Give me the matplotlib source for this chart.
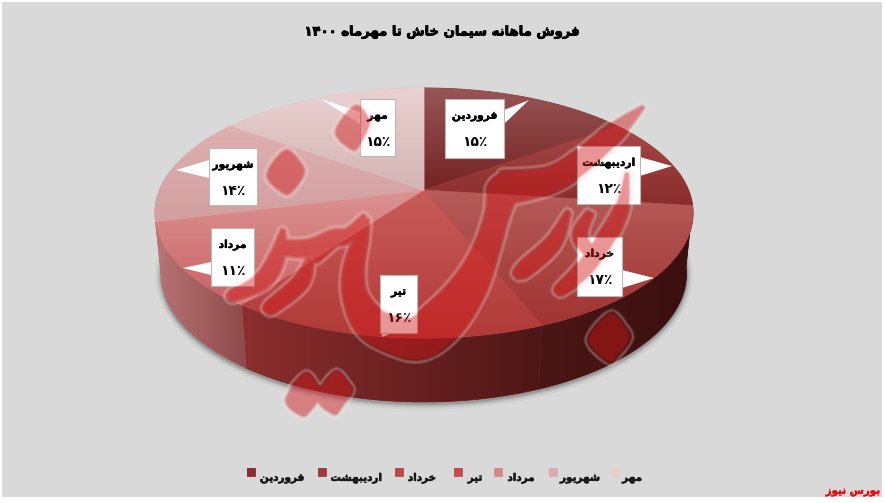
import numpy as np
import matplotlib
matplotlib.use("Agg")
import matplotlib.pyplot as plt
import matplotlib.patheffects as pe
from matplotlib.figure import Figure
from matplotlib.backends.backend_agg import FigureCanvasAgg
from matplotlib.patches import Polygon, Rectangle, Circle
from matplotlib.colors import to_rgb

W, H = 885, 503

# data
categories = ["فروردین", "اردیبهشت", "خرداد", "تیر", "مرداد", "شهریور", "مهر"]
values = [15, 12, 17, 16, 11, 14, 15]
title = "فروش ماهانه سیمان خاش تا مهرماه ۱۴۰۰"
source = "بورس نیوز"

# (top, bottom) colour of each slice, and (left, right) colour of its side
top_colors = [("#985656", "#752222"), ("#a84848", "#8a2c2c"), ("#b65c5a", "#a03431"),
              ("#c95c5a", "#b03a38"), ("#dc9292", "#c96262"), ("#dfb0b0", "#d39f9f"),
              ("#ebd2d2", "#d3b4b4")]
side_colors = [("#4a1818", "#4a1818"), ("#4a1818", "#4a1818"), ("#4c1616", "#3a0f0f"),
               ("#8c2e2e", "#4e1616"), ("#b87474", "#8e4a4a"), ("#b87474", "#b87474"),
               ("#b87474", "#b87474")]
legend_colors = ["#8a2f2f", "#a03c3a", "#b84a48", "#c84c4a", "#d58a8a", "#ddabab", "#e9cccc"]

# callout boxes: left, right, top, bottom, pointer tip, pointer base
boxes = [(445, 504, 99, 158, (529, 100), [(504, 110), (504, 124)]),
         (577, 640, 146, 204, (672, 166), [(640, 157), (640, 176)]),
         (577, 622, 237, 296, (654, 278), [(622, 270), (622, 288)]),
         (380, 417, 275, 333, (382, 337), [(392, 333), (382, 333)]),
         (211, 254, 228, 286, (183, 268), [(211, 275), (211, 262)]),
         (209, 257, 148, 205, (176, 170), [(209, 178), (209, 160)]),
         (360, 395, 99, 156, (321, 99), [(360, 124), (360, 112)])]

legend_box_x = [247, 318, 395, 454, 494, 549, 612]
legend_text_x = [282, 356, 422, 475, 521, 580, 632]

plt.rcParams['font.family'] = ['DejaVu Sans']

# matplotlib has no arabic shaping, so pick the presentation forms here
FORMS = {'ف': 0xFED1, 'ر': 0xFEAD, 'و': 0xFEED, 'ش': 0xFEB5, 'م': 0xFEE1, 'ا': 0xFE8D,
         'ه': 0xFEE9, 'ن': 0xFEE5, 'س': 0xFEB1, 'ی': 0xFBFC, 'خ': 0xFEA5, 'ت': 0xFE95,
         'د': 0xFEA9, 'ب': 0xFE8F, 'ز': 0xFEAF}
NO_LEFT_JOIN = "اردذزو"
DIGITS = "۰۱۲۳۴۵۶۷۸۹"
HEAVY = [pe.withStroke(linewidth=0.35, foreground="black")]


def shape(txt):
    out = []
    for i, c in enumerate(txt):
        if c not in FORMS:
            out.append(c)
            continue
        before = i > 0 and txt[i - 1] in FORMS and txt[i - 1] not in NO_LEFT_JOIN
        after = i + 1 < len(txt) and txt[i + 1] in FORMS and c not in NO_LEFT_JOIN
        k = 3 if before and after else 2 if after else 1 if before else 0
        out.append(chr(FORMS[c] + k))
    out = "".join(out)[::-1]
    # digits keep reading left to right
    res, run = "", ""
    for c in out:
        if c in DIGITS:
            run += c
        else:
            res += run[::-1] + c
            run = ""
    return res + run[::-1]


def pct(v):
    return "".join(DIGITS[int(d)] for d in str(v)) + "٪"


# pie geometry: a circle seen in perspective, apex is above the ellipse centre
CX, CY, AX, KY, P = 424, 190, 264.4, 120.8, 0.184
BOTTOM_CY, BOTTOM_AX, BOTTOM_KY = 250, 258, 124


def rim(t, cy=CY, a=AX, k=KY):
    x, y = np.sin(t), np.cos(t)
    w = 1 + P * y
    return np.column_stack([CX + a * x / w, cy - k * y / w])


def grad(ax, poly, c1, c2, horizontal=False, z=2):
    c1, c2 = np.array(to_rgb(c1)), np.array(to_rgb(c2))
    s = np.linspace(0, 1, 128)[:, None]
    img = c1 * (1 - s) + c2 * s
    img = img[None, :, :] if horizontal else img[:, None, :]
    x0, y0 = poly.min(axis=0)
    x1, y1 = poly.max(axis=0)
    ax.add_patch(Polygon(poly, closed=True, fc=tuple((c1 + c2) / 2), ec=tuple((c1 + c2) / 2), lw=0.6, zorder=z))
    im = ax.imshow(img, extent=(x0, x1, y1, y0), aspect='auto', interpolation='bilinear', zorder=z)
    im.set_clip_path(Polygon(poly, closed=True, transform=ax.transData))


fig = plt.figure(figsize=(W / 100, H / 100), dpi=100, facecolor="white")
ax = fig.add_axes([0, 0, 1, 1])
ax.set_axis_off()
ax.add_patch(Rectangle((2, 2), 880, 495, fc="#d9d9d9", ec="none", zorder=0))

fractions = np.array(values) / sum(values)
edges = np.concatenate([[0], np.cumsum(fractions)]) * 2 * np.pi

# soft shadow under the drum
tt = np.linspace(np.pi * 0.4, np.pi * 1.6, 200)
low = rim(tt, BOTTOM_CY, BOTTOM_AX, BOTTOM_KY)
for lw, al in zip([9, 6, 4, 2], [0.04, 0.06, 0.09, 0.14]):
    ax.plot(low[:, 0], low[:, 1] + 1.5, color="black", alpha=al, lw=lw, zorder=1, solid_capstyle='round')

# drum side, only the front half shows
for i in range(len(values)):
    a0, a1 = max(edges[i], np.pi * 0.45), min(edges[i + 1], np.pi * 1.55)
    if a1 <= a0:
        continue
    t = np.linspace(a0, a1, 80)
    poly = np.vstack([rim(t), rim(t[::-1], BOTTOM_CY, BOTTOM_AX, BOTTOM_KY)])
    grad(ax, poly, side_colors[i][0], side_colors[i][1], horizontal=True, z=2)

# top face
for i in range(len(values)):
    t = np.linspace(edges[i], edges[i + 1], 80)
    poly = np.vstack([[CX, CY], rim(t)])
    grad(ax, poly, top_colors[i][0], top_colors[i][1], z=3)

# callouts
for i, (l, r, t, b, tip, base) in enumerate(boxes):
    ax.add_patch(Polygon([tip] + base, closed=True, fc="white", ec="none", zorder=4))
    ax.add_patch(Rectangle((l, t), r - l, b - t, fc="white", ec="#b8b8b8", lw=0.8, zorder=4))
    xm = (l + r) / 2
    ax.text(xm, t + 17, shape(categories[i]), ha='center', va='center', fontsize=7.7,
            fontweight='bold', color="black", zorder=5, path_effects=HEAVY)
    ax.text(xm, t + 43, pct(values[i]), ha='center', va='center', fontsize=10,
            fontweight='bold', color="black", zorder=5)

# title, legend and source
ax.text(443, 32, shape(title), ha='center', va='center', fontsize=9.5, fontweight='bold',
        color="black", path_effects=[pe.withStroke(linewidth=0.6, foreground="black")])
for i, cat in enumerate(categories):
    x = legend_box_x[i]
    grad(ax, np.array([[x, 468], [x + 8, 468], [x + 8, 476], [x, 476]], float),
         legend_colors[i], legend_colors[i], z=4)
    ax.text(legend_text_x[i], 478, shape(cat), ha='center', va='center', fontsize=7.5,
            fontweight='bold', color="#1a1a1a", path_effects=HEAVY)
ax.text(853, 491, shape(source), ha='center', va='center', fontsize=7.4, fontweight='bold',
        color="#e81010", path_effects=[pe.withStroke(linewidth=0.35, foreground="#e81010")])


# watermark, drawn once as a mask so overlaps do not stack
def z4(x, y):
    return 220 + x / 3, 80 + y / 3


def z5(x, y):
    return 440 + x / 3, 90 + y / 3


strokes = [
    [(367, 219, 3), (361, 240, 12), (354, 267, 18), (355, 295, 22), (370, 322, 32), (395, 335, 36),
     (420, 337, 42), (445, 318, 42), (470, 285, 33), (486, 250, 24), (497, 215, 22), (503, 190, 30)],
    [(503, 188, 32), (550, 180, 24), (583, 160, 22), (617, 130, 17), (643, 107, 3)],
    [(568, 212, 3), (553, 243, 14), (527, 267, 15), (519, 273, 11)],
    [(627, 173, 3), (622, 207, 12), (607, 237, 16), (583, 270, 16), (560, 290, 10)],
    [(590, 213, 6), (580, 235, 12), (592, 255, 12)],
    [(283, 230, 3), (277, 257, 14), (263, 280, 16), (232, 296, 10)],
    [(310, 258, 5), (300, 283, 14), (270, 308, 12)],
    [(285, 248, 14), (310, 248, 16), (333, 238, 15), (348, 235, 12), (364, 216, 3)],
    [(337, 238, 10), (316, 258, 8)],
]
drops = [[z4(350, 155), z4(405, 80), z4(440, 110), z4(445, 135), z4(415, 195), z4(395, 205)],
         [z4(145, 285), z4(195, 215), z4(235, 245), z4(248, 280), z4(215, 330), z4(190, 335)],
         [z4(200, 960), z4(255, 885), z4(290, 920), z4(300, 945), z4(270, 990), z4(245, 1005)],
         [z4(295, 955), z4(345, 880), z4(380, 910), z4(390, 935), z4(360, 985), z4(340, 1000)],
         [z5(450, 750), z5(510, 675), z5(550, 710), z5(565, 745), z5(530, 795), z5(505, 810)]]


def smooth(points, n=24, closed=False):
    p = np.array(points, float)
    m = len(p)
    count = m if closed else m - 1
    out = []
    for u in np.linspace(0, count, count * n + 1):
        i = min(int(u), count - 1)
        f = u - i
        if closed:
            p0, p1, p2, p3 = p[(i - 1) % m], p[i % m], p[(i + 1) % m], p[(i + 2) % m]
        else:
            p0, p1, p2, p3 = p[max(i - 1, 0)], p[i], p[i + 1], p[min(i + 2, m - 1)]
        out.append(0.5 * (2 * p1 + (p2 - p0) * f + (2 * p0 - 5 * p1 + 4 * p2 - p3) * f ** 2
                          + (3 * p1 - p0 - 3 * p2 + p3) * f ** 3))
    return np.array(out)


off = Figure(figsize=(W / 100, H / 100), dpi=100, facecolor="black")
canvas = FigureCanvasAgg(off)
oa = off.add_axes([0, 0, 1, 1])
oa.set_axis_off()
oa.set_xlim(0, W)
oa.set_ylim(H, 0)
for st in strokes:
    c = smooth(st)
    d = np.gradient(c[:, :2], axis=0)
    d /= np.linalg.norm(d, axis=1, keepdims=True) + 1e-9
    nrm = np.column_stack([-d[:, 1], d[:, 0]]) * c[:, 2:] / 2
    oa.add_patch(Polygon(np.vstack([c[:, :2] + nrm, (c[:, :2] - nrm)[::-1]]), closed=True,
                         fc="white", ec="white", lw=1, joinstyle='round'))
    oa.add_patch(Circle(c[-1, :2], c[-1, 2] / 2, fc="white", ec="none"))
for dr in drops:
    oa.add_patch(Polygon(smooth(dr, closed=True), closed=True, fc="white", ec="white", lw=2, joinstyle='round'))
canvas.draw()
mask = np.asarray(canvas.buffer_rgba())[:, :, 0] / 255.0


def dilate(m, r):
    out = m.copy()
    for dy in range(-r, r + 1):
        for dx in range(-r, r + 1):
            if dx * dx + dy * dy <= r * r:
                out = np.maximum(out, np.roll(np.roll(m, dy, axis=0), dx, axis=1))
    return out


def soften(m):
    out = m.copy()
    for dy in (-1, 0, 1):
        for dx in (-1, 0, 1):
            if dx or dy:
                out = out + np.roll(np.roll(m, dy, axis=0), dx, axis=1)
    return out / 9


ring = soften(np.clip(dilate(mask, 4) - dilate(mask, 2), 0, 1))
for layer, col, al in [(ring, (1.0, 0.86, 0.86), 0.42), (soften(mask), (0.82, 0.10, 0.10), 0.46)]:
    rgba = np.zeros((H, W, 4))
    rgba[:, :, :3] = col
    rgba[:, :, 3] = layer * al
    ax.imshow(rgba, extent=(0, W, H, 0), aspect='auto', zorder=6, interpolation='nearest')

ax.set_xlim(0, W)
ax.set_ylim(H, 0)
fig.savefig("out.png", dpi=100)
